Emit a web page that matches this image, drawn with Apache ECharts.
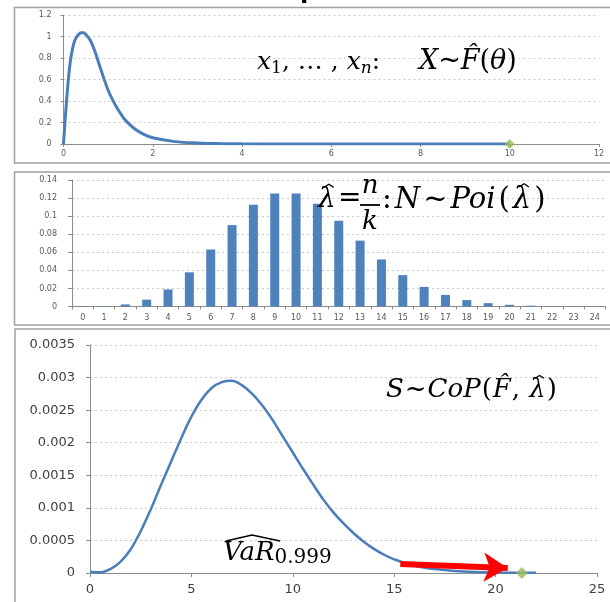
<!DOCTYPE html>
<html>
<head>
<meta charset="utf-8">
<script src="https://cdn.jsdelivr.net/npm/echarts@6/dist/echarts.min.js"></script>
<style>html,body{margin:0;padding:0;background:#fff;}#c{width:610px;height:602px;}</style>
</head>
<body>
<div id="c"></div>
<script>
// Panel 1: severity density X ~ F(theta)
const sevX = [0,0.05,0.1,0.15,0.2,0.25,0.3,0.35,0.4,0.45,0.5,0.6,0.7,0.8,0.9,1.0,1.1,1.2,1.3,1.4,1.6,1.8,2.0,2.5,3,3.5,4,5,6,8,10];
const sevY = [0,0.30,0.56,0.76,0.88,0.96,1.00,1.025,1.035,1.035,1.02,0.965,0.865,0.74,0.615,0.50,0.41,0.335,0.27,0.215,0.14,0.09,0.058,0.022,0.009,0.004,0.002,0.0005,0.0002,0,0];
const sevMarker = [10, 0];
const sevXTicks = {min:0, max:12, interval:2};
const sevYTicks = {min:0, max:1.2, interval:0.2};

// Panel 2: frequency N ~ Poi(lambda)
const freqCats = ['0','1','2','3','4','5','6','7','8','9','10','11','12','13','14','15','16','17','18','19','20','21','22','23','24'];
const freqVals = [0.0005,0.0005,0.0023,0.0076,0.0189,0.0378,0.0631,0.0901,0.1126,0.1251,0.1251,0.1137,0.0948,0.0729,0.0521,0.0347,0.0217,0.0128,0.0071,0.0037,0.0019,0.0009,0.0004,0.0002,0.0001];
const freqYTicks = {min:0, max:0.14, interval:0.02};

// Panel 3: compound distribution S ~ CoP(F, lambda)
const aggX = [0,0.5,1,1.5,2,2.5,3,3.5,4,4.5,5,5.5,6,6.5,7,7.5,8,8.5,9,9.5,10,10.5,11,11.5,12,12.5,13,13.5,14,14.5,15,16,17,18,19,20,21,22];
const aggY = [0.00002,0.00001,0.00006,0.00017,0.00036,0.00064,0.00098,0.00135,0.00171,0.00207,0.00240,0.00266,0.00284,0.00293,0.00295,0.00288,0.00275,0.00257,0.00235,0.00210,0.00185,0.00160,0.00136,0.00113,0.00093,0.00076,0.00061,0.00048,0.00037,0.00028,0.00021,0.00011,0.00006,0.00003,0.000015,0.000008,0.000004,0.000002];
const aggMarker = [21.3, 0];
const varArrow = [[15.3, 0.000138], [20.6, 0.000078]];
const aggXTicks = {min:0, max:25, interval:5};
const aggYTicks = {min:0, max:0.0035, interval:0.0005};

const BLUE = '#4A7EBB', GREEN = '#9BBB59', AXIS = '#8c8c8c', GRID = '#c9c9c9';
const smallLbl = {color:'#5a5a5a', fontSize:8, fontFamily:'DejaVu Sans'};
const bigLbl = {color:'#404040', fontSize:13, fontFamily:'DejaVu Sans'};
const split = {show:true, lineStyle:{color:GRID, type:[2,3], width:1}};
const axLine = {show:true, lineStyle:{color:AXIS, width:1}};

function pairs(xs, ys){ return xs.map((x,i)=>[x, ys[i]]); }

// --- formula text layout helpers (positions of annotation glyphs only) ---
const MATH = '"DejaVu Serif"';
const IT = (s)=>'italic ' + s + 'px ' + MATH;
const UP = (s)=>s + 'px ' + MATH;
const mctx = document.createElement('canvas').getContext('2d');
function tw(font, t){ mctx.font = font; return mctx.measureText(t).width; }
function seq(x, y, toks, gap){
  const out = [];
  toks.forEach(tk=>{
    const w = tw(tk.f, tk.t);
    out.push({type:'text', x:x, y:y, z:100, style:{text:tk.t, font:tk.f, fill:'#000', verticalAlign:'middle'}});
    if (tk.hat){
      const s = tk.hat, cx = x + w/2 + (tk.dx||0);
      out.push({type:'polyline', z:100, shape:{points:[[cx-0.17*s, y-0.45*s],[cx, y-0.56*s],[cx+0.17*s, y-0.45*s]]}, style:{stroke:'#000', lineWidth:1.3, fill:'none'}});
    }
    x += w + gap;
  });
  return out;
}

const chart = echarts.init(document.getElementById('c'), null, {renderer:'canvas'});
const it = (s)=>({fontFamily:MATH, fontStyle:'italic', fontSize:s, color:'#000'});
const up = (s)=>({fontFamily:MATH, fontSize:s, color:'#000'});

const graphics = [
  {type:'text', x:145, y:4, z:1, style:{text:'Model samples', font:'bold 30px "Liberation Sans"', fill:'#000', verticalAlign:'bottom'}},
  {type:'rect', z:-1, shape:{x:14.5, y:7.5, width:620, height:155.5}, style:{fill:'none', stroke:'#a0a0a0', lineWidth:1.5}},
  {type:'rect', z:-1, shape:{x:14.5, y:172, width:620, height:153}, style:{fill:'none', stroke:'#a0a0a0', lineWidth:1.5}},
  {type:'rect', z:-1, shape:{x:15, y:329, width:620, height:290}, style:{fill:'none', stroke:'#a0a0a0', lineWidth:1.5}},
  // panel 1 annotation
  {type:'text', x:257, y:62, z:100, style:{
    text:'{i|x}{s|1}{r|, … , }{i|x}{t|n}{r|:}',
    verticalAlign:'middle',
    rich:{i:{...it(25), lineHeight:30}, r:{...up(25), lineHeight:30}, s:{...up(17), lineHeight:8, verticalAlign:'bottom'}, t:{...it(17), lineHeight:8, verticalAlign:'bottom'}}}},
  {type:'text', x:419, y:62, z:100, style:{
    text:'{i|X}{r|~}{i|F\u0302}{r|(}{i|θ}{r|)}',
    verticalAlign:'middle',
    rich:{i:{...it(27), lineHeight:30}, r:{...up(27), lineHeight:30}}}},
  // panel 2 annotation
  ...seq(318, 200, [{t:'λ', f:IT(28), hat:28, dx:2}], 0),
  {type:'text', x:338, y:199, z:100, style:{text:'=', font:UP(28), fill:'#000', verticalAlign:'middle'}},
  {type:'text', x:370, y:186, z:100, style:{text:'n', font:IT(26), fill:'#000', align:'center', verticalAlign:'middle'}},
  {type:'line', z:100, shape:{x1:360, y1:205, x2:380, y2:205}, style:{stroke:'#000', lineWidth:1.8}},
  {type:'text', x:370, y:222, z:100, style:{text:'k', font:IT(26), fill:'#000', align:'center', verticalAlign:'middle'}},
  ...seq(382, 200, [
    {t:':', f:UP(29)}, {t:'N', f:IT(29)}, {t:'~', f:UP(29)}, {t:'Poi', f:IT(29)},
    {t:'(', f:UP(29)}, {t:'λ', f:IT(29), hat:29, dx:2}, {t:')', f:UP(29)}], 3),
  // panel 3 annotations
  ...seq(386, 390, [
    {t:'S', f:IT(26)}, {t:'~', f:UP(26)}, {t:'CoP', f:IT(26)}, {t:'(', f:UP(26)},
    {t:'F\u0302', f:IT(26)}, {t:', ', f:UP(26)}, {t:'λ', f:IT(26), hat:26, dx:2}, {t:')', f:UP(26)}], 1),
  {type:'text', x:223, y:553, z:100, style:{text:'{i|VaR}{s|0.999}', verticalAlign:'middle',
    rich:{i:{...it(26), lineHeight:30}, s:{...up(20), lineHeight:14, verticalAlign:'bottom'}}}},
  {type:'polyline', z:100, shape:{points:[[226,541],[252,535],[280,541]]}, style:{stroke:'#000', lineWidth:1.5, fill:'none'}}
];

chart.setOption({
  animation:false,
  backgroundColor:'#fff',
  grid:[
    {left:63.5, right:11, top:15, bottom:458, show:false},
    {left:72, right:4.5, top:180, bottom:295.5, show:false},
    {left:90, right:13, top:345, bottom:29, show:false}
  ],
  xAxis:[
    {gridIndex:0, type:'value', ...sevXTicks, axisLine:{...axLine, onZero:false}, axisTick:{show:true, length:3, lineStyle:{color:AXIS}}, splitLine:{show:false}, axisLabel:{...smallLbl, margin:6}},
    {gridIndex:1, type:'category', data:freqCats, axisLine:axLine, axisTick:{show:true, length:3, lineStyle:{color:AXIS}}, axisLabel:{...smallLbl, interval:0, margin:7}},
    {gridIndex:2, type:'value', ...aggXTicks, axisLine:{...axLine, onZero:false}, axisTick:{show:true, length:4, lineStyle:{color:AXIS}}, splitLine:{show:false}, axisLabel:{...bigLbl, margin:10}}
  ],
  yAxis:[
    {gridIndex:0, type:'value', ...sevYTicks, axisLine:axLine, axisTick:{show:true, length:3, lineStyle:{color:AXIS}}, splitLine:split, axisLabel:{...smallLbl, margin:12}},
    {gridIndex:1, type:'value', ...freqYTicks, axisLine:axLine, axisTick:{show:true, length:4, lineStyle:{color:AXIS}}, splitLine:split, axisLabel:{...smallLbl, margin:15}},
    {gridIndex:2, type:'value', ...aggYTicks, axisLine:axLine, axisTick:{show:true, length:4, lineStyle:{color:AXIS}}, splitLine:split, axisLabel:{...bigLbl, margin:15}}
  ],
  series:[
    {type:'line', xAxisIndex:0, yAxisIndex:0, data:pairs(sevX, sevY), smooth:0.35, showSymbol:false, lineStyle:{color:BLUE, width:3}, z:3},
    {type:'scatter', xAxisIndex:0, yAxisIndex:0, data:[sevMarker], symbol:'diamond', symbolSize:10, itemStyle:{color:GREEN}, z:4},
    {type:'bar', xAxisIndex:1, yAxisIndex:1, data:freqVals, barWidth:9, itemStyle:{color:'#4F81BD'}},
    {type:'line', xAxisIndex:2, yAxisIndex:2, data:pairs(aggX, aggY), smooth:0.35, showSymbol:false, lineStyle:{color:BLUE, width:2.5}, z:3,
      markLine:{silent:true, symbol:['none','arrow'], symbolSize:[22,24], label:{show:false},
        lineStyle:{color:'#FF0000', width:6, type:'solid'},
        data:[[{coord:varArrow[0]},{coord:varArrow[1]}]]}},
    {type:'scatter', xAxisIndex:2, yAxisIndex:2, data:[aggMarker], symbol:'diamond', symbolSize:12, itemStyle:{color:GREEN}, z:5}
  ],
  graphic:graphics
});
</script>
</body>
</html>
